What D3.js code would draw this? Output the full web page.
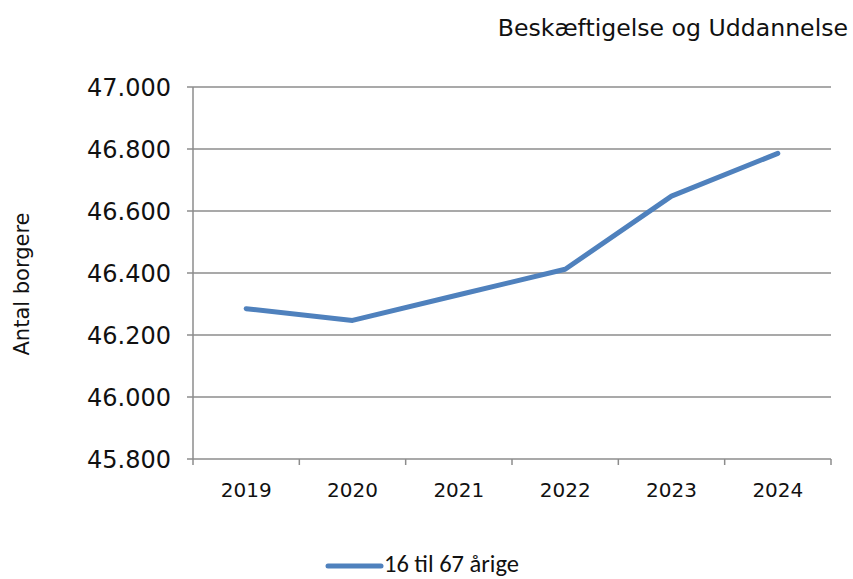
<!DOCTYPE html>
<html>
<head>
<meta charset="utf-8">
<script src="https://cdn.jsdelivr.net/npm/d3@7"></script>
<style>
  body { margin: 0; background: #fff; }
  svg { display: block; font-family: "DejaVu Sans", Verdana, sans-serif; }
</style>
</head>
<body>
<svg id="chart" width="853" height="579"></svg>
<script>
const years  = ['2019', '2020', '2021', '2022', '2023', '2024'];
const values = [46285, 46247, 46330, 46412, 46648, 46786];
const yTicks = [45800, 46000, 46200, 46400, 46600, 46800, 47000];
const seriesName = '16 til 67 årige';
const title = 'Beskæftigelse og Uddannelse';
const yTitle = 'Antal borgere';

const svg = d3.select('#chart');
const m = { left: 193, right: 831, top: 87, bottom: 459 };

const x = d3.scaleBand().domain(years).range([m.left, m.right]);
const y = d3.scaleLinear().domain([45800, 47000]).range([m.bottom, m.top]);
const fmt = v => d3.format(',')(v).replace(/,/g, '.');

// gridlines
svg.append('g')
    .selectAll('line')
    .data(yTicks)
    .join('line')
    .attr('x1', m.left - 6).attr('x2', m.right)
    .attr('y1', d => y(d)).attr('y2', d => y(d))
    .attr('stroke', '#8c8c8c').attr('stroke-width', 1.5);

// y axis line
svg.append('line')
    .attr('x1', m.left).attr('x2', m.left)
    .attr('y1', m.top).attr('y2', m.bottom)
    .attr('stroke', '#8c8c8c').attr('stroke-width', 1.5);

// x ticks
const xEdges = years.map(d => x(d)).concat([m.right]);
svg.append('g')
    .selectAll('line')
    .data(xEdges)
    .join('line')
    .attr('x1', d => d).attr('x2', d => d)
    .attr('y1', m.bottom).attr('y2', m.bottom + 6)
    .attr('stroke', '#8c8c8c').attr('stroke-width', 1.5);

// y tick labels
svg.append('g')
    .selectAll('text')
    .data(yTicks)
    .join('text')
    .attr('x', 171).attr('y', d => y(d))
    .attr('dy', '0.36em')
    .attr('text-anchor', 'end')
    .attr('font-size', 24).attr('fill', '#111')
    .text(fmt);

// x tick labels
svg.append('g')
    .selectAll('text')
    .data(years)
    .join('text')
    .attr('x', d => x(d) + x.bandwidth() / 2).attr('y', 497)
    .attr('text-anchor', 'middle')
    .attr('font-size', 20).attr('fill', '#111')
    .text(d => d);

// line
const line = d3.line()
    .x((d, i) => x(years[i]) + x.bandwidth() / 2)
    .y(d => y(d));
svg.append('path')
    .datum(values)
    .attr('d', line)
    .attr('fill', 'none')
    .attr('stroke', '#4f81bd').attr('stroke-width', 5)
    .attr('stroke-linecap', 'round').attr('stroke-linejoin', 'round');

// title
svg.append('text')
    .attr('x', 848).attr('y', 36)
    .attr('text-anchor', 'end')
    .attr('font-size', 23.6).attr('fill', '#111')
    .text(title);

// y title
svg.append('text')
    .attr('transform', 'translate(29,284) rotate(-90)')
    .attr('text-anchor', 'middle')
    .attr('font-size', 21).attr('fill', '#111')
    .text(yTitle);

// legend
const lg = svg.append('g').attr('transform', 'translate(328,566)');
lg.append('line')
    .attr('x1', 0).attr('x2', 53)
    .attr('stroke', '#4f81bd').attr('stroke-width', 5)
    .attr('stroke-linecap', 'round');
lg.append('text')
    .attr('x', 56).attr('y', 6)
    .attr('font-family', 'Carlito, "Liberation Sans", Arial, sans-serif')
    .attr('font-size', 24.5).attr('fill', '#111')
    .text(seriesName);
</script>
</body>
</html>
